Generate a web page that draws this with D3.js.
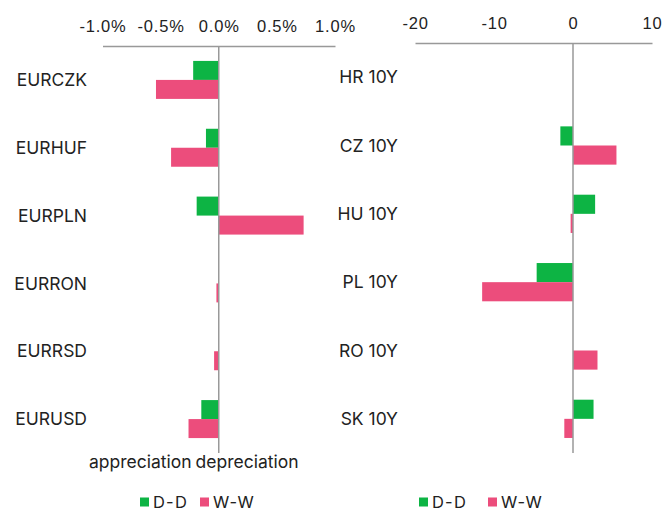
<!DOCTYPE html>
<html>
<head>
<meta charset="utf-8">
<script src="https://cdn.jsdelivr.net/npm/d3@7"></script>
<style>
  body { margin: 0; background: #fff; }
  svg { display: block; font-family: Inter, "Noto Sans", sans-serif; }
</style>
</head>
<body>
<svg width="665" height="511"></svg>
<script>
var svg = d3.select('svg');

// data
var fxPairs = ["EURCZK", "EURHUF", "EURPLN", "EURRON", "EURRSD", "EURUSD"];
var fxDD = [-0.22, -0.11, -0.19, 0, 0, -0.15];
var fxWW = [-0.54, -0.41, 0.73, -0.02, -0.04, -0.26];
var fxTicks = [-1, -0.5, 0, 0.5, 1];

var bonds = ["HR 10Y", "CZ 10Y", "HU 10Y", "PL 10Y", "RO 10Y", "SK 10Y"];
var bondDD = [0, -1.6, 2.8, -4.6, 0, 2.6];
var bondWW = [0, 5.5, -0.3, -11.5, 3.1, -1.1];
var bondTicks = [-20, -10, 0, 10];

var seriesNames = ["D-D", "W-W"];
var colors = {"D-D": "#0db444", "W-W": "#ec4d7c"};
var axisColor = "#999";
var textColor = "#222";

function drawPanel(opt) {
  var x = d3.scaleLinear().domain(opt.domain).range(opt.xRange);
  var y = d3.scaleBand().domain(opt.cats).range(opt.yRange).paddingInner(0.44).paddingOuter(0.22);
  var ys = d3.scaleBand().domain(seriesNames).range([0, y.bandwidth()]);

  var g = svg.append('g');

  // top axis
  var ax = g.append('g')
    .attr('transform', 'translate(0,' + opt.yRange[0] + ')')
    .call(d3.axisTop(x).tickValues(opt.ticks).tickFormat(opt.fmt).tickSize(0).tickPadding(14));
  ax.select('.domain').attr('stroke', axisColor).attr('stroke-width', 1.5);
  ax.selectAll('text')
    .attr('fill', textColor)
    .style('font-size', '16.5px')
    .style('letter-spacing', '0.8px');

  var rows = opt.cats.map(function(c, i) {
    return {cat: c, "D-D": opt.dd[i], "W-W": opt.ww[i]};
  });

  seriesNames.forEach(function(s) {
    g.selectAll('rect.s' + s)
      .data(rows)
      .enter()
      .append('rect')
      .attr('x', function(d){ return x(Math.min(0, d[s])); })
      .attr('y', function(d){ return y(d.cat) + ys(s); })
      .attr('width', function(d){ return Math.abs(x(d[s]) - x(0)); })
      .attr('height', ys.bandwidth())
      .attr('fill', colors[s]);
  });

  // zero line
  g.append('line')
    .attr('x1', x(0)).attr('x2', x(0))
    .attr('y1', opt.yRange[0]).attr('y2', opt.yRange[1])
    .attr('stroke', axisColor).attr('stroke-width', 1.5);

  // category labels
  g.selectAll('text.cat')
    .data(opt.cats)
    .enter()
    .append('text')
    .attr('class', 'cat')
    .attr('x', opt.labelX)
    .attr('y', function(d){ return y(d) + y.bandwidth() / 2; })
    .attr('dy', '0.35em')
    .attr('text-anchor', 'end')
    .attr('fill', textColor)
    .style('font-size', '17.5px')
    .text(function(d){ return d; });

  // legend
  var lg = g.append('g').attr('transform', 'translate(' + opt.legendX + ',502)');
  var lx = [0, opt.legendGap];
  seriesNames.forEach(function(s, i) {
    lg.append('rect')
      .attr('x', lx[i]).attr('y', -4.5)
      .attr('width', 9).attr('height', 9)
      .attr('fill', colors[s]);
    lg.append('text')
      .attr('x', lx[i] + 13).attr('y', 5.5)
      .attr('fill', textColor)
      .style('font-size', '16.5px')
      .style('letter-spacing', '1.2px')
      .text(s);
  });
  return g;
}

function hyphen(s) { return s.replace('\u2212', '-'); }

drawPanel({
  cats: fxPairs, dd: fxDD, ww: fxWW, ticks: fxTicks,
  domain: [-1, 1], xRange: [102.5, 335], yRange: [46, 453],
  fmt: function(d){ return hyphen(d3.format('.1f')(d)) + '%'; },
  labelX: 87, legendX: 140, legendGap: 60
});

drawPanel({
  cats: bonds, dd: bondDD, ww: bondWW, ticks: bondTicks,
  domain: [-20, 10], xRange: [415, 652], yRange: [43, 453],
  fmt: function(d){ return hyphen(d3.format('d')(d)); },
  labelX: 398, legendX: 419, legendGap: 69
});

svg.append('text')
  .attr('x', 89).attr('y', 468)
  .attr('fill', textColor)
  .style('font-size', '17.5px')
  .style('word-spacing', '-1px')
  .text('appreciation depreciation');
</script>
</body>
</html>
